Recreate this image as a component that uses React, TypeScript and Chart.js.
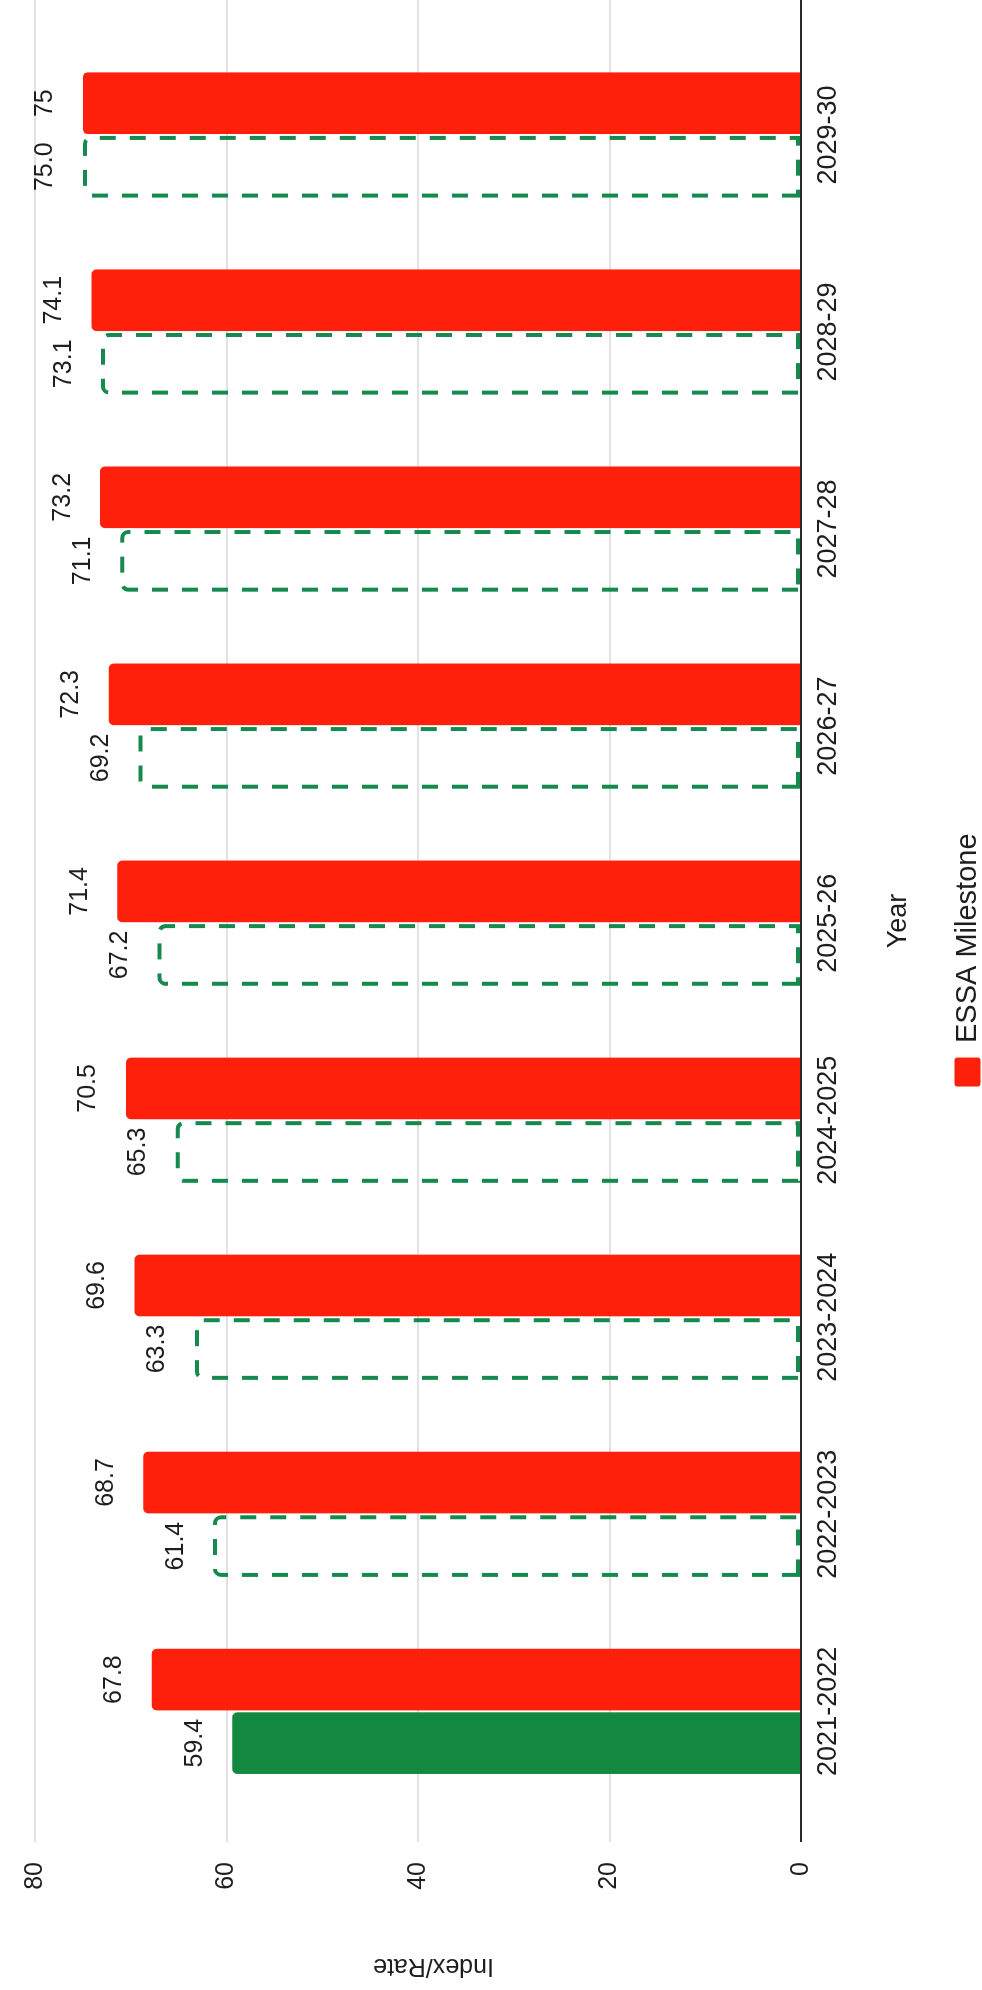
import React, { useEffect, useRef } from 'react';
import { Chart, registerables } from 'chart.js';

Chart.register(...registerables);

const FONT = "'Liberation Sans', Arial, Helvetica, sans-serif";

const categories = ['2021-2022', '2022-2023', '2023-2024', '2024-2025', '2025-26', '2026-27', '2027-28', '2028-29', '2029-30'];
const performanceValues = [59.4, 61.4, 63.3, 65.3, 67.2, 69.2, 71.1, 73.1, 75.0];
const milestoneValues = [67.8, 68.7, 69.6, 70.5, 71.4, 72.3, 73.2, 74.1, 75];
const valueTickLabels = [0, 20, 40, 60, 80];

const RED = '#ff200b';
const GREEN = '#12893f';
const GREEN_DASH = '#168a4e';
const TEXT = '#1e1e1e';

const W = 1990;
const H = 982;

const barDecor = {
  id: 'barDecor',
  afterDatasetsDraw(chart: any) {
    const ctx = chart.ctx;
    ctx.save();
    const gMeta = chart.getDatasetMeta(0);
    gMeta.data.forEach((el: any, i: number) => {
      if (i === 0) return;
      const p = el.getProps(['x', 'y', 'base', 'width'], true);
      const lw = 4;
      const r = 6;
      const l = p.x - p.width / 2 + lw / 2;
      const rr = p.x + p.width / 2 - lw / 2;
      const t = p.y + lw / 2;
      const b = p.base - lw / 2;
      ctx.beginPath();
      ctx.moveTo(l, b);
      ctx.lineTo(l, t + r);
      ctx.arcTo(l, t, l + r, t, r);
      ctx.lineTo(rr - r, t);
      ctx.arcTo(rr, t, rr, t + r, r);
      ctx.lineTo(rr, b);
      ctx.closePath();
      ctx.setLineDash([16, 14]);
      ctx.lineWidth = lw;
      ctx.strokeStyle = GREEN_DASH;
      ctx.stroke();
    });
    ctx.setLineDash([]);
    ctx.font = `25px ${FONT}`;
    ctx.fillStyle = TEXT;
    ctx.textAlign = 'center';
    ctx.textBaseline = 'alphabetic';
    chart.data.datasets.forEach((ds: any, di: number) => {
      const meta = chart.getDatasetMeta(di);
      meta.data.forEach((el: any, i: number) => {
        const p = el.getProps(['x', 'y'], true);
        const v = ds.data[i];
        const txt = di === 0 ? Number(v).toFixed(1) : String(v);
        ctx.fillText(txt, p.x, p.y - 30.5);
      });
    });
    ctx.restore();
  },
};

const layoutShift = {
  id: 'layoutShift',
  afterLayout(chart: any) {
    const l = chart.legend;
    if (l) {
      l.left += 35;
      l.right += 35;
      l.top += 10;
      l.bottom += 10;
    }
    const y = chart.scales.y;
    if (y) {
      y.top += 15.5;
      y.bottom += 15.5;
    }
  },
};

export default function App() {
  const ref = useRef<HTMLCanvasElement | null>(null);

  useEffect(() => {
    if (!ref.current) return;
    Chart.defaults.font.family = FONT;
    const chart = new Chart(ref.current, {
      type: 'bar',
      data: {
        labels: categories,
        datasets: [
          {
            label: 'Performance',
            data: performanceValues,
            backgroundColor: performanceValues.map((_, i) => (i === 0 ? GREEN : 'rgba(0,0,0,0)')),
            borderWidth: 0,
            borderRadius: 5,
            categoryPercentage: 0.645,
            barPercentage: 0.97,
          },
          {
            label: 'ESSA Milestone',
            data: milestoneValues,
            backgroundColor: RED,
            borderWidth: 0,
            borderRadius: 5,
            categoryPercentage: 0.645,
            barPercentage: 0.97,
          },
        ],
      },
      options: {
        responsive: false,
        animation: false,
        devicePixelRatio: 1,
        layout: { padding: { top: 23, right: 0, bottom: 0, left: 0 } },
        plugins: {
          tooltip: { enabled: false },
          legend: {
            position: 'bottom',
            labels: {
              filter: (item: any) => item.datasetIndex === 1,
              boxWidth: 29,
              boxHeight: 26,
              useBorderRadius: true,
              borderRadius: 3,
              color: TEXT,
              font: { size: 29, family: FONT },
              padding: 10,
            },
          },
        },
        scales: {
          x: {
            grid: { display: false, drawTicks: false },
            border: { display: false },
            ticks: {
              color: TEXT,
              font: { size: 27, family: FONT },
              padding: 11,
              maxRotation: 0,
              autoSkip: false,
            },
            title: {
              display: true,
              text: 'Year',
              color: TEXT,
              font: { size: 27, family: FONT },
              padding: { top: 0, bottom: 18.5 },
            },
            afterBuildTicks: (scale: any) => {
              scale._startValue = scale._startValue - 0.163;
              scale._valueRange = scale._valueRange + 0.348;
            },
            afterFit: (scale: any) => {
              scale.height = 132;
            },
          },
          y: {
            min: 0,
            max: 80,
            afterBuildTicks: (scale: any) => {
              scale.ticks = valueTickLabels.map((v) => ({ value: v }));
            },
            grid: {
              drawTicks: false,
              color: (c: any) => (c.tick && c.tick.value === 0 ? '#2a2a2a' : '#e2e2e2'),
              lineWidth: 2,
            },
            border: { display: false },
            ticks: {
              color: TEXT,
              font: { size: 25, family: FONT },
              padding: 20,
            },
            title: {
              display: true,
              text: 'Index/Rate',
              color: TEXT,
              font: { size: 25, family: FONT },
              padding: { top: 9, bottom: 0 },
            },
            afterFit: (scale: any) => {
              scale.width = 148;
            },
          },
        },
      } as any,
      plugins: [barDecor, layoutShift],
    });
    return () => chart.destroy();
  }, []);

  return (
    <div style={{ position: 'absolute', left: 0, top: 0, width: 982, height: 1990, overflow: 'hidden', background: '#fff' }}>
      <div
        style={{
          position: 'absolute',
          left: 0,
          top: 0,
          width: W,
          height: H,
          transformOrigin: '0 0',
          transform: `translate(0px, ${W}px) rotate(-90deg)`,
        }}
      >
        <canvas ref={ref} width={W} height={H} style={{ display: 'block', width: W, height: H }} />
      </div>
    </div>
  );
}
